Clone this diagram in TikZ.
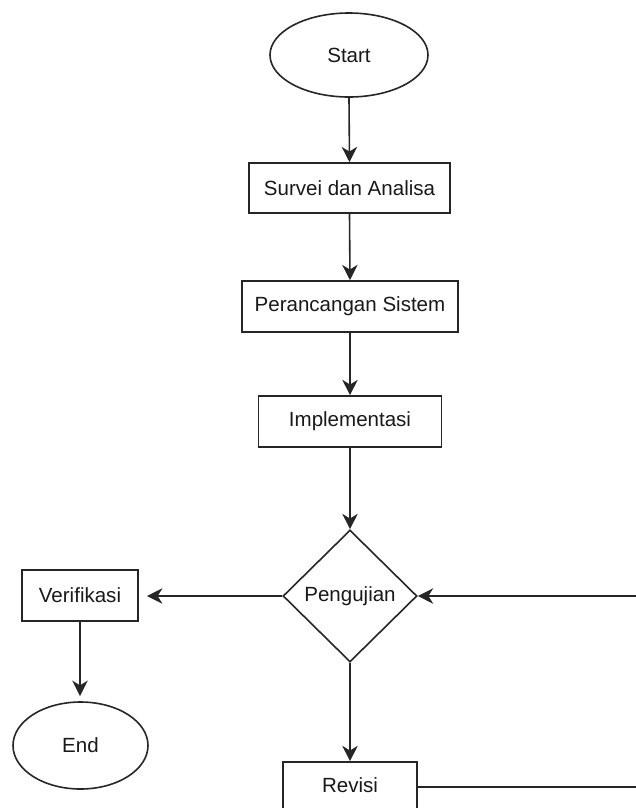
\documentclass[tikz,border=0pt]{standalone}
\usepackage{fontspec}
\setmainfont{Liberation Sans}
\usetikzlibrary{shapes.geometric,arrows.meta}
\begin{document}
\begin{tikzpicture}[x=0.75pt,y=-0.75pt,
  every node/.style={font=\fontsize{15.4}{18}\selectfont, text=black!90, inner sep=0pt, line width=1.2pt, draw=black!85, fill=white},
  procbox/.style={rectangle},
  termin/.style={ellipse},
  decis/.style={diamond, aspect=1},
  conn/.style={line width=1.2pt, draw=black!85, -{Stealth[length=11.5pt,width=11.5pt,inset=3.5pt]}},
  plain/.style={line width=1.2pt, draw=black!85}
]
\useasboundingbox (0,0) rectangle (636,808);
\clip (0,0) rectangle (636,808);
\node[termin, minimum width=118.5pt, minimum height=63pt] (start) at (349,55) {Start};
\node[procbox, minimum width=150.75pt, minimum height=37.5pt] (survei) at (349.5,188) {Survei dan Analisa};
\node[procbox, minimum width=162pt, minimum height=38.25pt] (peran) at (350,306.5) {Perancangan Sistem};
\node[procbox, minimum width=137.25pt, minimum height=38.25pt] (impl) at (350,421.5) {Implementasi};
\node[decis, minimum width=100.5pt, minimum height=99pt] (uji) at (350,596) {Pengujian};
\node[procbox, minimum width=87pt, minimum height=38.25pt] (verif) at (80,595.5) {Verifikasi};
\node[termin, minimum width=101.25pt, minimum height=65.25pt] (end) at (80.5,745.5) {End};
\node[procbox, minimum width=100.5pt, minimum height=37.5pt] (rev) at (350,787) {\raisebox{3pt}{Revisi}};
\coordinate (r1) at (637,596);
\coordinate (r2) at (637,787);
\coordinate (vtip) at (147,596);
\coordinate (etip) at (80,696);
\draw[conn] (start.south) -- (survei.north);
\draw[conn] (survei.south) -- (peran.north);
\draw[conn] (peran.south) -- (impl.north);
\draw[conn] (impl.south) -- (uji.north);
\draw[conn] (uji.west) -- (vtip);
\draw[conn] (verif.south) -- (etip);
\draw[conn] (uji.south) -- (rev.north);
\draw[conn] (r1) -- (uji.east);
\draw[plain] (rev.east) -- (r2);
\end{tikzpicture}
\end{document}
